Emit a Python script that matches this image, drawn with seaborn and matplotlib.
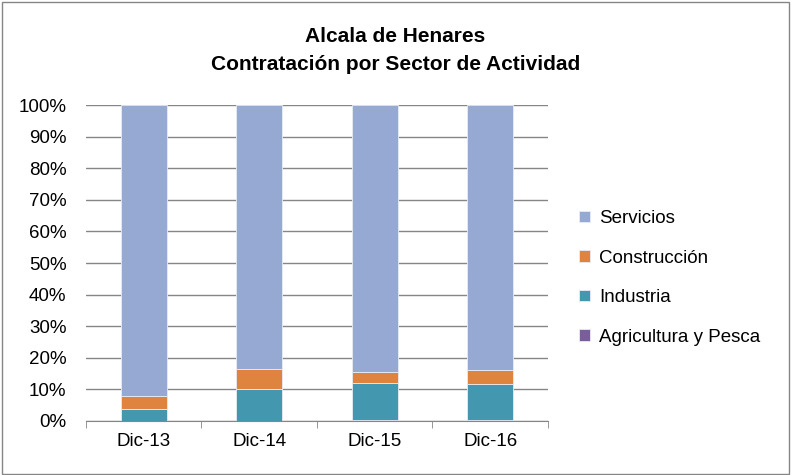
import matplotlib
matplotlib.use("Agg")
import matplotlib.pyplot as plt
import numpy as np
import pandas as pd
import seaborn as sns
from matplotlib.patches import Rectangle
from matplotlib.ticker import PercentFormatter, FixedLocator

periods = ["Dic-13", "Dic-14", "Dic-15", "Dic-16"]
agricultura = [0.1, 0.1, 0.4, 0.2]
industria = [3.8, 9.9, 11.6, 11.4]
construccion = [4.0, 6.6, 3.6, 4.4]
servicios = [92.1, 83.4, 84.4, 84.0]

sectors = ["Agricultura y Pesca", "Industria", "Construcción", "Servicios"]
colors = {"Agricultura y Pesca": "#7A5D9B", "Industria": "#4398AF",
          "Construcción": "#DE843E", "Servicios": "#95A9D2"}

df = pd.DataFrame({"periodo": periods, "Agricultura y Pesca": agricultura,
                   "Industria": industria, "Construcción": construccion,
                   "Servicios": servicios})

sns.set_style("white")
plt.rcParams["font.family"] = ["Liberation Sans", "DejaVu Sans"]
plt.rcParams["text.color"] = "black"

fig = plt.figure(figsize=(7.91, 4.75), dpi=100)
ax = fig.add_axes([0.1087, 0.1137, 0.584, 0.665])

bottom = np.zeros(len(periods))
for s in sectors:
    sns.barplot(data=df, x="periodo", y=s, color=colors[s], width=0.4,
                bottom=bottom, ax=ax, label=s, saturation=1,
                edgecolor="#E8ECF4", linewidth=0.6)
    bottom += df[s].values

ax.set_ylim(0, 100)
ax.set_xlim(-0.5, 3.5)
ax.set_yticks(range(0, 101, 10))
ax.yaxis.set_major_formatter(PercentFormatter(decimals=0))
ax.grid(axis="y", color="#868686", lw=1)
ax.set_axisbelow(True)
ax.set_xlabel("")
ax.set_ylabel("")
for sp in ["top", "right", "left"]:
    ax.spines[sp].set_visible(False)
ax.spines["bottom"].set_color("#868686")
ax.tick_params(axis="both", labelsize=13.5, length=0, colors="black")
ax.tick_params(axis="y", pad=14)
ax.tick_params(axis="x", pad=9)
ax.xaxis.set_minor_locator(FixedLocator([-0.5, 0.5, 1.5, 2.5, 3.5]))
ax.tick_params(axis="x", which="minor", length=5, color="#868686", direction="out")
ax.tick_params(axis="x", which="minor", bottom=True)

handles, labels = ax.get_legend_handles_labels()
ax.legend(handles[::-1], labels[::-1], loc="center left",
          bbox_to_anchor=(1.03, 0.453), frameon=False, fontsize=13.5,
          handlelength=0.6, handleheight=0.6, labelspacing=1.2,
          handletextpad=0.5)

fig.text(0.5, 0.924, "Alcala de Henares", ha="center", va="center",
         fontsize=15, fontweight="bold", color="black")
fig.text(0.5, 0.865, "Contratación por Sector de Actividad", ha="center",
         va="center", fontsize=15, fontweight="bold", color="black")

fig.patches.append(Rectangle((0.002, 0.003), 0.995, 0.993, transform=fig.transFigure,
                             fill=False, edgecolor="#868686", lw=1))

fig.savefig("out.png", dpi=100)
